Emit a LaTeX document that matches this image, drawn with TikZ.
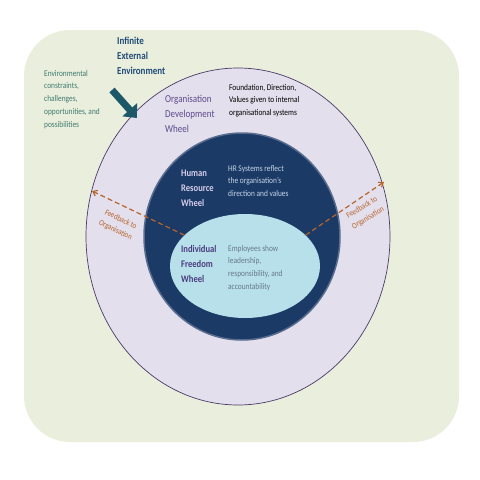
\documentclass[tikz,border=0pt]{standalone}
\usepackage{fontspec}
\setmainfont{Carlito}[FakeStretch=0.85]
\usepackage{xcolor}
\usetikzlibrary{shapes.geometric, arrows.meta, positioning}

\definecolor{envbg}{HTML}{EAEEDC}
\definecolor{odfill}{HTML}{E4DFEC}
\definecolor{odline}{HTML}{4A3A68}
\definecolor{hrfill}{HTML}{1B3A66}
\definecolor{iffill}{HTML}{B8E0EA}
\definecolor{envtext}{HTML}{1F4A78}
\definecolor{context}{HTML}{3F7B70}
\definecolor{arrowteal}{HTML}{1C5868}
\definecolor{odtitle}{HTML}{5C4A8C}
\definecolor{hrtitle}{HTML}{D6CDEA}
\definecolor{hrtext}{HTML}{C6D6E8}
\definecolor{iftitle}{HTML}{4A3D7E}
\definecolor{iftext}{HTML}{66798C}
\definecolor{feedback}{HTML}{B5652C}

\begin{document}
\begin{tikzpicture}[
    x=1pt, y=-1pt,
    wheel/.style={ellipse, inner sep=0pt},
    label/.style={anchor=north west, inner sep=0pt, align=left},
    title/.style={label, font=\fontsize{10.6}{15}\selectfont},
    note/.style={label, font=\fontsize{8.7}{12.7}\selectfont},
    feedtext/.style={inner sep=0pt, align=center, text=feedback, font=\fontsize{8.2}{12}\selectfont},
    feedarrow/.style={->, >={Straight Barb[length=4pt,width=6pt]}, feedback, dashed, dash pattern=on 5pt off 3pt, line width=1.2pt}
]
\useasboundingbox (0,0) rectangle (480,480);

% Environment
\fill[envbg, rounded corners=46pt] (24,30) rectangle (459,442);

% Wheels
\node[wheel, draw=odline, line width=0.7pt, fill=odfill, minimum width=304pt, minimum height=337pt] (odwheel) at (238,236.5) {};
\node[wheel, draw=hrfill!70!odfill, line width=1.5pt, fill=hrfill, minimum width=196pt, minimum height=207pt] (hrwheel) at (242,236.5) {};
\node[wheel, fill=iffill, minimum width=150pt, minimum height=104pt] (ifwheel) at (245,266) {};

% Environment texts
\node[title, font=\fontsize{10.6}{15}\selectfont\bfseries, text=envtext] (envtitle) at (117,37) {Infinite\\External\\Environment};
\node[note, text=context] (envnote) at (44,70) {Environmental\\constraints,\\challenges,\\opportunities, and\\possibilities};

% Arrow onto the wheel
\coordinate (pushtail) at (112,90);
\coordinate (pushtip) at (137,118);
\draw[arrowteal, line width=7pt, -{Triangle[length=11pt,width=19pt]}] (pushtail) -- (pushtip);

% Organisation Development Wheel
\node[title, text=odtitle] (odtitle) at (165,95) {Organisation\\Development\\Wheel};
\node[note, text=black] (odnote) at (229,84) {Foundation, Direction,\\Values given to internal\\organisational systems};

% Human Resource Wheel
\node[title, font=\fontsize{10.1}{15}\selectfont\bfseries, text=hrtitle] (hrtitle) at (181,170) {Human\\Resource\\Wheel};
\node[note, text=hrtext] (hrnote) at (228,165) {HR Systems reflect\\the organisation's\\direction and values};

% Individual Freedom Wheel
\node[title, font=\fontsize{10.1}{15}\selectfont\bfseries, text=iftitle] (iftitle) at (181,245) {Individual\\Freedom\\Wheel};
\node[note, text=iftext] (ifnote) at (228,245) {Employees show\\leadership,\\responsibility, and\\accountability};

% Feedback
\coordinate (feedleft) at (92,191);
\coordinate (feedright) at (384,182);
\draw[feedarrow] (ifwheel.153) -- (feedleft);
\draw[feedarrow] (ifwheel.27) -- (feedright);
\node[feedtext, rotate=-26] (feedleftlabel) at (118,225) {Feedback to\\Organisation};
\node[feedtext, rotate=31] (feedrightlabel) at (365,213) {Feedback to\\Organisation};

\end{tikzpicture}
\end{document}
